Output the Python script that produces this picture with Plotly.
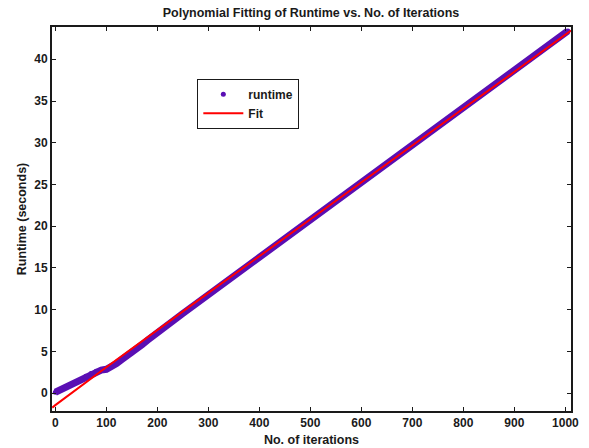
import plotly.graph_objects as go

# Runtime data (iterations vs seconds)
iters = [0, 10, 20, 30, 40, 50, 60, 70, 80, 90, 100, 110, 120, 130, 140, 150, 160, 170, 180, 190,
         200, 210, 220, 230, 240, 250, 260, 270, 280, 290, 300, 310, 320, 330, 340, 350, 360, 370, 380, 390,
         400, 410, 420, 430, 440, 450, 460, 470, 480, 490, 500, 510, 520, 530, 540, 550, 560, 570, 580, 590,
         600, 610, 620, 630, 640, 650, 660, 670, 680, 690, 700, 710, 720, 730, 740, 750, 760, 770, 780, 790,
         800, 810, 820, 830, 840, 850, 860, 870, 880, 890, 900, 910, 920, 930, 940, 950, 960, 970, 980, 990,
         1000, 1005]
runtime = [0.1, 0.4, 0.7, 1.0, 1.3, 1.6, 2.0, 2.35, 2.6, 2.75, 2.85, 3.15, 3.55, 4.0, 4.4, 4.8, 5.3, 5.8, 6.3, 6.8,
           7.30, 7.75, 8.20, 8.64, 9.09, 9.54, 9.99, 10.44, 10.88, 11.33, 11.78, 12.23, 12.68, 13.12, 13.57, 14.02, 14.47, 14.92, 15.36, 15.81,
           16.26, 16.71, 17.16, 17.60, 18.05, 18.50, 18.95, 19.40, 19.84, 20.29, 20.74, 21.19, 21.64, 22.08, 22.53, 22.98, 23.43, 23.88, 24.32, 24.77,
           25.22, 25.67, 26.12, 26.56, 27.01, 27.46, 27.91, 28.36, 28.80, 29.25, 29.70, 30.15, 30.60, 31.04, 31.49, 31.94, 32.39, 32.84, 33.28, 33.73,
           34.18, 34.63, 35.08, 35.52, 35.97, 36.42, 36.87, 37.32, 37.76, 38.21, 38.66, 39.11, 39.56, 40.00, 40.45, 40.90, 41.35, 41.80, 42.24, 42.69,
           43.14, 43.40]

# Polynomial fit curve
fit_x = [-6, 0, 100, 200, 300, 400, 500, 600, 700, 800, 900, 1000, 1011]
fit_y = [-1.75, -1.45, 3.1, 7.6, 12.0, 16.4, 20.85, 25.3, 29.7, 34.1, 38.5, 42.95, 43.45]

x_ticks = [0, 100, 200, 300, 400, 500, 600, 700, 800, 900, 1000]
y_ticks = [0, 5, 10, 15, 20, 25, 30, 35, 40]

PURPLE = "#5A0FB4"
FONT = "Liberation Sans, Arial, sans-serif"
INK = "#1a1a1a"

fig = go.Figure()
fig.add_trace(go.Scatter(x=iters, y=runtime, mode="lines", line=dict(color=PURPLE, width=7),
                         showlegend=False, hoverinfo="skip"))
fig.add_trace(go.Scatter(x=iters, y=runtime, mode="markers", name="runtime",
                         marker=dict(color=PURPLE, size=5, line=dict(width=0))))
fig.add_trace(go.Scatter(x=fit_x, y=fit_y, mode="lines", name="Fit",
                         line=dict(color="#FF0000", width=2)))

axis_common = dict(showgrid=False, zeroline=False, showline=True, linecolor=INK, linewidth=2,
                   mirror="ticks", ticks="inside", ticklen=4, tickwidth=1, tickcolor=INK,
                   automargin=False,
                   tickfont=dict(family=FONT, size=12, color=INK, weight="bold"))

fig.update_layout(
    width=589, height=448,
    margin=dict(l=52, r=18, t=27, b=37),
    paper_bgcolor="white", plot_bgcolor="white",
    title=dict(text="Polynomial Fitting of Runtime vs. No. of Iterations",
               font=dict(family=FONT, size=12.5, color=INK, weight="bold"),
               x=0.528, xanchor="center", y=0.971, yanchor="middle"),
    xaxis=dict(range=[-6.5, 1011], tickvals=x_ticks,
               title=dict(text="No. of iterations", standoff=6,
                          font=dict(family=FONT, size=12.5, color=INK, weight="bold")),
               **axis_common),
    yaxis=dict(range=[-2.15, 43.87], tickvals=y_ticks,
               title=dict(text="Runtime (seconds)", standoff=5,
                          font=dict(family=FONT, size=12.5, color=INK, weight="bold")),
               **axis_common),
    legend=dict(x=0.28, y=0.865, xanchor="left", yanchor="top",
                bgcolor="white", bordercolor=INK, borderwidth=1,
                font=dict(family=FONT, size=12, color=INK, weight="bold"),
                tracegroupgap=0, itemwidth=40),
)

fig.write_html("out.html")
